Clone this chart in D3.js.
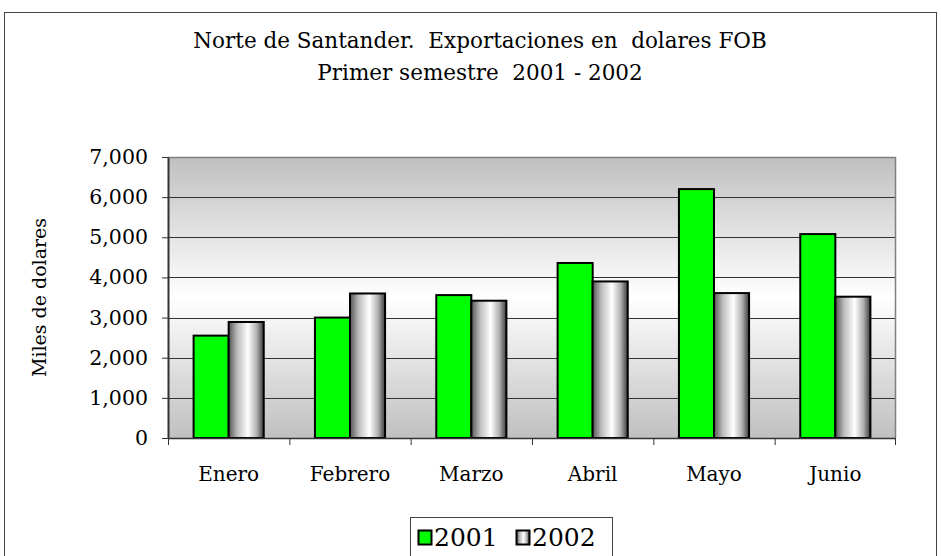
<!DOCTYPE html>
<html>
<head>
<meta charset="utf-8">
<script src="https://cdn.jsdelivr.net/npm/d3@7"></script>
<style>
  body { margin: 0; background: #fff; }
</style>
</head>
<body>
<script>
// data
var months = ['Enero', 'Febrero', 'Marzo', 'Abril', 'Mayo', 'Junio'];
var series = ['2001', '2002'];
var values2001 = [2550, 3000, 3560, 4360, 6200, 5080];
var values2002 = [2890, 3600, 3420, 3900, 3610, 3520];
var yTicks = [0, 1000, 2000, 3000, 4000, 5000, 6000, 7000];

var w = 941, h = 556;
var plot = { left: 168, right: 896, top: 157, bottom: 438 };
var serif = '"DejaVu Serif", serif';

var svg = d3.select('body').append('svg')
  .attr('width', w)
  .attr('height', h)
  .attr('font-family', serif);

var defs = svg.append('defs');

// plot background: gray - white - gray
var bg = defs.append('linearGradient')
  .attr('id', 'bgGrad')
  .attr('x1', 0).attr('y1', 0).attr('x2', 0).attr('y2', 1);
bg.append('stop').attr('offset', '0%').attr('stop-color', '#c0c0c0');
bg.append('stop').attr('offset', '50%').attr('stop-color', '#ffffff');
bg.append('stop').attr('offset', '100%').attr('stop-color', '#c0c0c0');

// cylinder look for the 2002 bars
var cyl = defs.append('linearGradient')
  .attr('id', 'cylGrad')
  .attr('x1', 0).attr('y1', 0).attr('x2', 1).attr('y2', 0);
cyl.append('stop').attr('offset', '0%').attr('stop-color', '#555555');
cyl.append('stop').attr('offset', '25%').attr('stop-color', '#bdbdbd');
cyl.append('stop').attr('offset', '55%').attr('stop-color', '#ffffff');
cyl.append('stop').attr('offset', '80%').attr('stop-color', '#b0b0b0');
cyl.append('stop').attr('offset', '100%').attr('stop-color', '#3a3a3a');

var fills = { '2001': '#00ff00', '2002': 'url(#cylGrad)' };

// outer chart border (bottom runs off the page)
svg.append('rect')
  .attr('x', 4.5).attr('y', 12.5)
  .attr('width', 932).attr('height', 580)
  .attr('fill', 'none')
  .attr('stroke', '#444')
  .attr('stroke-width', 1);

// title
var title = svg.append('text')
  .attr('text-anchor', 'middle')
  .attr('font-family', serif)
  .attr('font-size', '21.5px')
  .style('white-space', 'pre');
title.append('tspan').attr('x', 480).attr('y', 48)
  .text('Norte de Santander.  Exportaciones en  dolares FOB');
title.append('tspan').attr('x', 480).attr('y', 80)
  .text('Primer semestre  2001 - 2002');

// scales
var x0 = d3.scaleBand()
  .domain(months)
  .range([plot.left, plot.right]);

var x1 = d3.scaleBand()
  .domain(series)
  .range([0, x0.bandwidth()])
  .paddingOuter(0.73);

var y = d3.scaleLinear()
  .domain([0, 7000])
  .range([plot.bottom, plot.top]);

// background
svg.append('rect')
  .attr('x', plot.left).attr('y', plot.top)
  .attr('width', plot.right - plot.left)
  .attr('height', plot.bottom - plot.top)
  .attr('fill', 'url(#bgGrad)');

// gridlines
svg.append('g')
  .selectAll('line')
  .data(yTicks.filter(function(d) { return d > 0 && d < 7000; }))
  .enter()
  .append('line')
  .attr('x1', plot.left).attr('x2', plot.right)
  .attr('y1', function(d) { return Math.round(y(d)) + 0.5; })
  .attr('y2', function(d) { return Math.round(y(d)) + 0.5; })
  .attr('stroke', '#333')
  .attr('stroke-width', 1);

// top and right border of the plot area
svg.append('path')
  .attr('d', 'M' + plot.left + ',' + (plot.top + 0.5) +
             'H' + (plot.right - 0.5) + 'V' + plot.bottom)
  .attr('fill', 'none')
  .attr('stroke', '#808080')
  .attr('stroke-width', 1.5);

// bars
var rows = months.map(function(m, i) {
  return { month: m, vals: [
    { key: '2001', value: values2001[i] },
    { key: '2002', value: values2002[i] }
  ] };
});

svg.append('g')
  .selectAll('g')
  .data(rows)
  .enter()
  .append('g')
  .attr('transform', function(d) { return 'translate(' + x0(d.month) + ',0)'; })
  .selectAll('rect')
  .data(function(d) { return d.vals; })
  .enter()
  .append('rect')
  .attr('x', function(d) { return x1(d.key); })
  .attr('y', function(d) { return y(d.value); })
  .attr('width', x1.bandwidth())
  .attr('height', function(d) { return plot.bottom - y(d.value); })
  .attr('fill', function(d) { return fills[d.key]; })
  .attr('stroke', '#000')
  .attr('stroke-width', 2);

// y axis
var yAxis = svg.append('g')
  .attr('transform', 'translate(' + plot.left + ',0)')
  .call(d3.axisLeft(y)
    .tickValues(yTicks)
    .tickFormat(d3.format(','))
    .tickSizeInner(6)
    .tickSizeOuter(0)
    .tickPadding(14));
yAxis.attr('font-family', serif).attr('font-size', '20.5px');
yAxis.select('.domain').attr('stroke', '#333').attr('stroke-width', 2);
yAxis.selectAll('.tick line').attr('stroke', '#333');
yAxis.selectAll('.tick text').attr('fill', '#000');

// x axis: ticks sit on the category boundaries
var xAxis = svg.append('g')
  .attr('transform', 'translate(0,' + plot.bottom + ')');
xAxis.append('line')
  .attr('x1', plot.left).attr('x2', plot.right)
  .attr('y1', 0.5).attr('y2', 0.5)
  .attr('stroke', '#333')
  .attr('stroke-width', 1.5);
xAxis.selectAll('line.tk')
  .data(months.concat(['end']))
  .enter()
  .append('line')
  .attr('class', 'tk')
  .attr('x1', function(d) { return d === 'end' ? plot.right - 0.5 : x0(d) + 0.5; })
  .attr('x2', function(d) { return d === 'end' ? plot.right - 0.5 : x0(d) + 0.5; })
  .attr('y1', 0).attr('y2', 7)
  .attr('stroke', '#333');
xAxis.selectAll('text')
  .data(months)
  .enter()
  .append('text')
  .attr('x', function(d) { return x0(d) + x0.bandwidth() / 2; })
  .attr('y', 43)
  .attr('text-anchor', 'middle')
  .attr('font-size', '20px')
  .text(function(d) { return d; });

// y axis title
svg.append('text')
  .attr('transform', 'translate(46,' + ((plot.top + plot.bottom) / 2) + ') rotate(-90)')
  .attr('text-anchor', 'middle')
  .attr('font-size', '19px')
  .text('Miles de dolares');

// legend
var legend = svg.append('g');
legend.append('rect')
  .attr('x', 410.5).attr('y', 517.5)
  .attr('width', 202).attr('height', 60)
  .attr('fill', '#fff')
  .attr('stroke', '#444');

var legendX = d3.scaleOrdinal().domain(series).range([418, 516]);

var items = legend.selectAll('g.item')
  .data(series)
  .enter()
  .append('g')
  .attr('class', 'item')
  .attr('transform', function(d) { return 'translate(' + legendX(d) + ',0)'; });
items.append('rect')
  .attr('x', 0.5).attr('y', 530.5)
  .attr('width', 13).attr('height', 14)
  .attr('fill', function(d) { return fills[d]; })
  .attr('stroke', '#000')
  .attr('stroke-width', 2);
items.append('text')
  .attr('x', 16).attr('y', 546)
  .attr('font-size', '25px')
  .text(function(d) { return d; });
</script>
</body>
</html>
